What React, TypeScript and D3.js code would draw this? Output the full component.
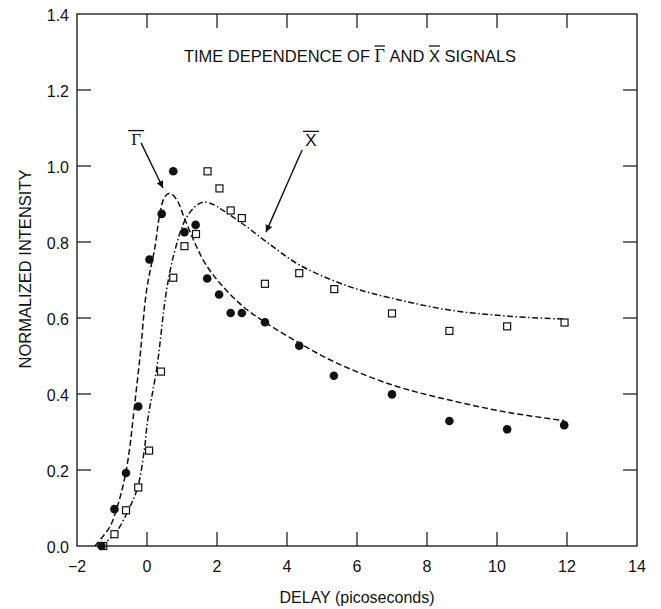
import React, { useEffect, useRef } from 'react';
import * as d3 from 'd3';

// measured gamma-bar points (filled circles)
const gammaX = [-1.3, -0.93, -0.6, -0.25, 0.07, 0.42, 0.75, 1.07, 1.39, 1.72, 2.06, 2.39, 2.71, 3.37, 4.35, 5.34, 7.0, 8.64, 10.29, 11.92];
const gammaY = [0.0, 0.097, 0.192, 0.367, 0.754, 0.874, 0.986, 0.826, 0.845, 0.704, 0.662, 0.613, 0.613, 0.589, 0.527, 0.448, 0.399, 0.329, 0.307, 0.318];

// measured X-bar points (open squares)
const xbarX = [-1.25, -0.93, -0.6, -0.25, 0.06, 0.4, 0.75, 1.07, 1.4, 1.73, 2.07, 2.39, 2.71, 3.37, 4.35, 5.35, 7.0, 8.64, 10.29, 11.93];
const xbarY = [0.0, 0.031, 0.094, 0.154, 0.251, 0.459, 0.706, 0.789, 0.821, 0.986, 0.941, 0.883, 0.863, 0.69, 0.718, 0.676, 0.612, 0.566, 0.578, 0.588];

// fitted curves
const gammaFitX = [-1.49, -1.06, -0.82, -0.63, -0.49, -0.4, -0.2, -0.01, 0.23, 0.37, 0.51, 0.66, 0.85, 1.09, 1.37, 1.66, 2.09, 2.75, 3.42, 4.37, 5.34, 7.0, 8.64, 10.29, 11.92];
const gammaFitY = [0.0, 0.051, 0.112, 0.182, 0.261, 0.334, 0.498, 0.674, 0.788, 0.876, 0.919, 0.928, 0.911, 0.858, 0.797, 0.744, 0.691, 0.63, 0.586, 0.533, 0.485, 0.424, 0.384, 0.352, 0.33];

const xbarFitX = [-1.32, -0.91, -0.53, -0.27, -0.08, 0.02, 0.28, 0.56, 0.8, 1.09, 1.37, 1.61, 1.94, 2.09, 2.66, 3.42, 4.37, 5.8, 7.0, 8.64, 10.29, 11.92];
const xbarFitY = [0.0, 0.033, 0.095, 0.153, 0.25, 0.332, 0.468, 0.674, 0.779, 0.858, 0.893, 0.905, 0.897, 0.888, 0.853, 0.8, 0.739, 0.682, 0.652, 0.621, 0.605, 0.597];

const xTicks = [-2, 0, 2, 4, 6, 8, 10, 12, 14];
const yTicks = [0, 0.2, 0.4, 0.6, 0.8, 1.0, 1.2, 1.4];

const W = 661;
const H = 609;

export default function App() {
  const svgRef = useRef<SVGSVGElement>(null);

  useEffect(() => {
    document.body.style.margin = '0';
    const svg = d3.select(svgRef.current);
    svg.selectAll('*').remove();

    const x = d3.scaleLinear().domain([-2, 14]).range([77, 637]);
    const y = d3.scaleLinear().domain([0, 1.4]).range([546, 14]);
    const font = '"Liberation Sans", Arial, sans-serif';
    const ink = '#111';

    svg.append('defs').append('marker')
      .attr('id', 'arrow')
      .attr('viewBox', '0 0 10 10')
      .attr('refX', 10).attr('refY', 5)
      .attr('markerWidth', 10).attr('markerHeight', 7)
      .attr('markerUnits', 'userSpaceOnUse')
      .attr('orient', 'auto')
      .append('path').attr('d', 'M0,0 L10,5 L0,10 z').attr('fill', ink);

    // frame
    svg.append('rect')
      .attr('x', x(-2)).attr('y', y(1.4))
      .attr('width', x(14) - x(-2)).attr('height', y(0) - y(1.4))
      .attr('fill', 'none').attr('stroke', ink).attr('stroke-width', 1.3);

    const tl = 14;
    const innerX = xTicks.slice(1, -1);
    const innerY = yTicks.slice(1, -1);
    const g = svg.append('g').attr('stroke', ink).attr('stroke-width', 1.2);
    innerX.forEach(t => {
      g.append('line').attr('x1', x(t)).attr('x2', x(t)).attr('y1', y(0)).attr('y2', y(0) - tl);
      g.append('line').attr('x1', x(t)).attr('x2', x(t)).attr('y1', y(1.4)).attr('y2', y(1.4) + tl);
    });
    innerY.forEach(t => {
      g.append('line').attr('x1', x(-2)).attr('x2', x(-2) + tl).attr('y1', y(t)).attr('y2', y(t));
      g.append('line').attr('x1', x(14)).attr('x2', x(14) - tl).attr('y1', y(t)).attr('y2', y(t));
    });

    // tick labels
    svg.append('g').selectAll('text').data(xTicks).join('text')
      .attr('x', d => x(d)).attr('y', 572)
      .attr('text-anchor', 'middle')
      .attr('font-family', font).attr('font-size', 16).attr('fill', ink)
      .text(d => (d < 0 ? '\u2212' + Math.abs(d) : String(d)));

    svg.append('g').selectAll('text').data(yTicks).join('text')
      .attr('x', 69).attr('y', d => y(d) + 7)
      .attr('text-anchor', 'end')
      .attr('font-family', font).attr('font-size', 16).attr('fill', ink)
      .text(d => d.toFixed(1));

    // axis titles
    svg.append('text')
      .attr('x', (x(-2) + x(14)) / 2).attr('y', 603)
      .attr('text-anchor', 'middle')
      .attr('font-family', font).attr('font-size', 16).attr('fill', ink)
      .text('DELAY (picoseconds)');

    svg.append('text')
      .attr('transform', `translate(31,269) rotate(-90)`)
      .attr('text-anchor', 'middle')
      .attr('font-family', font).attr('font-size', 16.5).attr('fill', ink)
      .text('NORMALIZED INTENSITY');

    // title with overbars
    const title = svg.append('text')
      .attr('x', 350).attr('y', 62)
      .attr('text-anchor', 'middle')
      .attr('font-family', font).attr('font-size', 16.5).attr('fill', ink);
    title.append('tspan').text('TIME DEPENDENCE OF ');
    const tG = title.append('tspan').attr('font-family', '"Liberation Serif", serif').attr('font-size', 18).text('\u0393');
    title.append('tspan').text(' AND ');
    const tX = title.append('tspan').text('X');
    title.append('tspan').text(' SIGNALS');
    [tG, tX].forEach(sp => {
      const r = (sp.node() as SVGTSpanElement).getExtentOfChar(0);
      svg.append('line')
        .attr('x1', r.x).attr('x2', r.x + r.width)
        .attr('y1', 46).attr('y2', 46)
        .attr('stroke', ink).attr('stroke-width', 1.3);
    });

    // curve labels
    const labels = [
      { t: '\u0393', lx: -0.31, ly: 1.055, serif: true, a0: [-0.17, 1.061], a1: [0.457, 0.942] },
      { t: 'X', lx: 4.686, ly: 1.053, serif: false, a0: [4.43, 1.042], a1: [3.4, 0.826] },
    ];
    labels.forEach(l => {
      const tx = svg.append('text')
        .attr('x', x(l.lx)).attr('y', y(l.ly))
        .attr('text-anchor', 'middle')
        .attr('font-family', l.serif ? '"Liberation Serif", serif' : font)
        .attr('font-size', 17).attr('fill', ink)
        .text(l.t);
      const bb = (tx.node() as SVGTextElement).getBBox();
      svg.append('line')
        .attr('x1', x(l.lx) - 8).attr('x2', x(l.lx) + 8)
        .attr('y1', bb.y + 0.5).attr('y2', bb.y + 0.5)
        .attr('stroke', ink).attr('stroke-width', 1.3);
      svg.append('line')
        .attr('x1', x(l.a0[0])).attr('y1', y(l.a0[1]))
        .attr('x2', x(l.a1[0])).attr('y2', y(l.a1[1]))
        .attr('stroke', ink).attr('stroke-width', 1.4)
        .attr('marker-end', 'url(#arrow)');
    });

    // fitted curves
    const line = d3.line<[number, number]>()
      .x(d => x(d[0])).y(d => y(d[1]))
      .curve(d3.curveCatmullRom.alpha(0.5));

    svg.append('path')
      .datum(gammaFitX.map((v, i) => [v, gammaFitY[i]] as [number, number]))
      .attr('d', line)
      .attr('fill', 'none').attr('stroke', ink).attr('stroke-width', 1.5)
      .attr('stroke-dasharray', '6,3');

    svg.append('path')
      .datum(xbarFitX.map((v, i) => [v, xbarFitY[i]] as [number, number]))
      .attr('d', line)
      .attr('fill', 'none').attr('stroke', ink).attr('stroke-width', 1.5)
      .attr('stroke-dasharray', '6,2.5,1.5,2.5');

    // points
    const s = 7;
    svg.append('g').selectAll('rect')
      .data(xbarX.map((v, i) => [v, xbarY[i]]))
      .join('rect')
      .attr('x', d => x(d[0]) - s / 2).attr('y', d => y(d[1]) - s / 2)
      .attr('width', s).attr('height', s)
      .attr('fill', 'white').attr('stroke', ink).attr('stroke-width', 1.2);

    svg.append('g').selectAll('circle')
      .data(gammaX.map((v, i) => [v, gammaY[i]]))
      .join('circle')
      .attr('cx', d => x(d[0])).attr('cy', d => y(d[1]))
      .attr('r', 4.3)
      .attr('fill', ink);
  }, []);

  return <svg ref={svgRef} width={W} height={H} style={{ display: 'block', background: 'white' }} />;
}
